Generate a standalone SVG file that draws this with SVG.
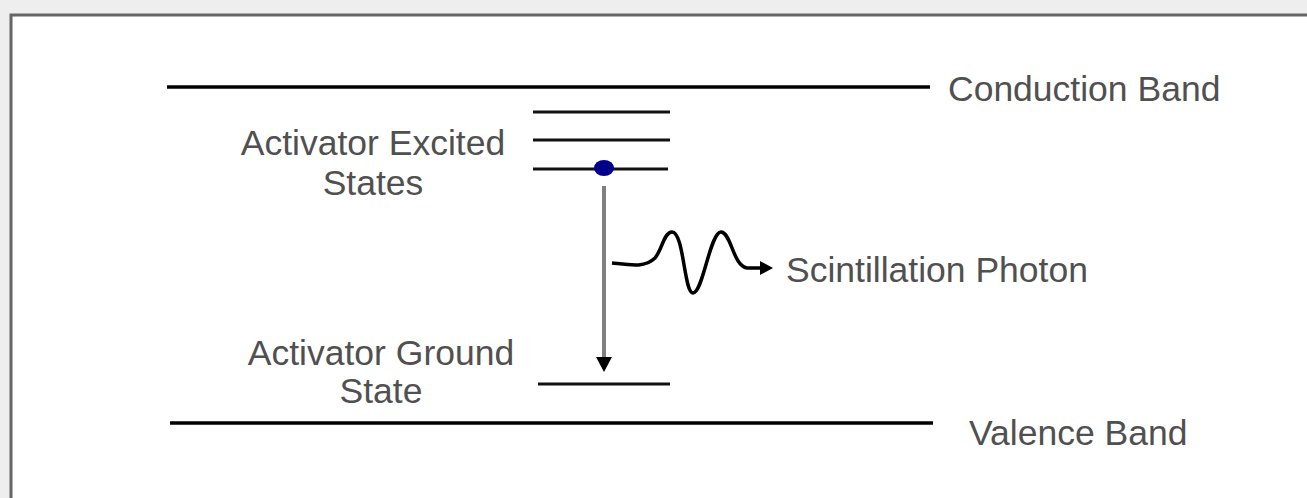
<svg xmlns="http://www.w3.org/2000/svg" width="1307" height="498" viewBox="0 0 1307 498">
<style>
.lbl{font-family:"Liberation Sans",Arial,sans-serif;font-size:35.5px;fill:#505050}
.band{stroke:#000;stroke-width:3.5;fill:none}
.lvl{stroke:#111;stroke-width:3;fill:none}
</style>
<rect x="0" y="0" width="1307" height="498" fill="#eeeeee"/>
<rect x="11" y="15" width="1300" height="490" fill="#ffffff" stroke="#666" stroke-width="3"/>
<g id="conduction-band">
<line class="band" x1="167" y1="87" x2="930" y2="87"/>
<text class="lbl" x="948" y="101">Conduction Band</text>
</g>
<g id="valence-band">
<line class="band" x1="170" y1="423" x2="933" y2="423"/>
<text class="lbl" x="969" y="445">Valence Band</text>
</g>
<g id="excited-states">
<line class="lvl" x1="533" y1="112" x2="670" y2="112" stroke="#555"/>
<line class="lvl" x1="533" y1="140" x2="670" y2="140"/>
<line class="lvl" x1="533" y1="169" x2="668" y2="169"/>
<text class="lbl" x="373" y="155" text-anchor="middle">Activator Excited</text>
<text class="lbl" x="373" y="195" text-anchor="middle">States</text>
</g>
<g id="electron">
<ellipse cx="604" cy="168" rx="10" ry="8" fill="#00008b"/>
</g>
<g id="ground-state">
<line class="lvl" x1="538" y1="384" x2="670" y2="384"/>
<text class="lbl" x="381" y="365" text-anchor="middle">Activator Ground</text>
<text class="lbl" x="381" y="403" text-anchor="middle">State</text>
</g>
<g id="photon-label">
<text class="lbl" x="786" y="282">Scintillation Photon</text>
</g>
<g id="connectors">
<line x1="604" y1="186" x2="604" y2="358" stroke="#808080" stroke-width="4"/>
<path d="M596,357 L612,357 L604,372 z" fill="#000"/>
<path d="M612,263 C630,265 645,268 655,258 C662,250 664,232 672,232 C684,232 684,293 693,293 C703,293 710,232 721,232 C731,232 733,266 747,268 L764,268" fill="none" stroke="#000" stroke-width="3.5"/>
<path d="M760,261 L773,268 L760,275 z" fill="#000"/>
</g>
</svg>
